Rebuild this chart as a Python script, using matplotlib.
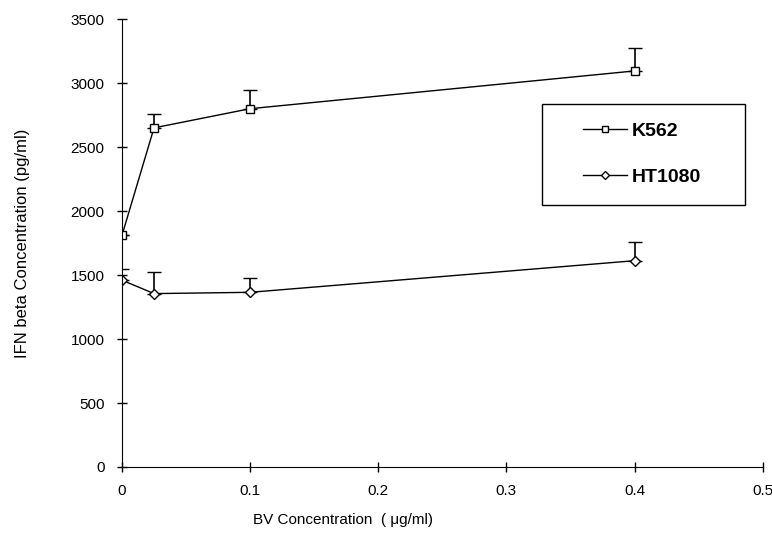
import matplotlib
matplotlib.use("Agg")
import matplotlib.pyplot as plt
from matplotlib.lines import Line2D
from matplotlib.patches import Rectangle
import numpy as np

plt.rcParams["font.family"] = ["Liberation Sans", "DejaVu Sans"]

bv_conc = [0, 0.025, 0.1, 0.4]
k562 = [1810, 2650, 2800, 3095]
k562_err = [0, 110, 145, 180]
ht1080 = [1460, 1355, 1365, 1612]
ht1080_err = [90, 170, 115, 145]

x_ticks = [0, 0.1, 0.2, 0.3, 0.4, 0.5]
y_ticks = [0, 500, 1000, 1500, 2000, 2500, 3000, 3500]

fig = plt.figure(figsize=(7.72, 5.46), dpi=100)
ax = fig.add_axes([0.158, 0.1447, 0.83, 0.8203])

style = dict(color="black", lw=1, elinewidth=1.2, capsize=4.7, capthick=1.2,
             mfc="white", mec="black", mew=1)
ax.errorbar(bv_conc, k562, yerr=[np.zeros(len(k562_err)), k562_err],
            marker="s", ms=6, **style)
ax.errorbar(bv_conc, ht1080, yerr=[np.zeros(len(ht1080_err)), ht1080_err],
            marker="D", ms=5, **style)

ax.set_xlim(0, 0.5)
ax.set_ylim(0, 3500)
ax.set_xticks(x_ticks)
ax.set_xticklabels([str(t) for t in x_ticks])
ax.set_yticks(y_ticks)
ax.tick_params(direction="inout", length=7, width=1, labelsize=11, pad=9)
ax.spines["top"].set_visible(False)
ax.spines["right"].set_visible(False)

ax.set_xlabel("BV Concentration  ( \u03bcg/ml)", fontsize=11)
ax.xaxis.set_label_coords(0.345, -0.118)
ax.xaxis.label.set_va("center")
ax.set_ylabel("IFN beta Concentration (pg/ml)", fontsize=12)
ax.yaxis.set_label_coords(-0.156, 0.5)
ax.yaxis.label.set_va("center")

# legend box drawn separately so the padding can match the original
ax.add_patch(Rectangle((0.655, 0.585), 0.318, 0.225, transform=ax.transAxes,
                       fill=True, facecolor="white", edgecolor="black", lw=1,
                       clip_on=False, zorder=4))
handles = [
    Line2D([], [], color="black", lw=1, marker="s", ms=5, mfc="white", mec="black"),
    Line2D([], [], color="black", lw=1, marker="D", ms=4, mfc="white", mec="black"),
]
leg = ax.legend(handles, ["K562", "HT1080"], loc="center left",
                bbox_to_anchor=(0.719, 0.698), borderaxespad=0, borderpad=0,
                frameon=False, prop={"size": 14, "weight": "bold"},
                handlelength=2.27, labelspacing=1.46, handletextpad=0.26)
leg.set_zorder(5)

fig.savefig("out.png", dpi=100)
